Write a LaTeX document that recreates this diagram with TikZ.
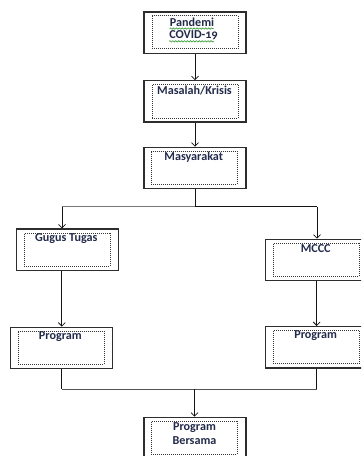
\documentclass[tikz,border=0pt]{standalone}
\usepackage{fontspec}
\setmainfont{Carlito}[Numbers=OldStyle]
\usetikzlibrary{arrows.meta,decorations.pathmorphing}
\definecolor{txt}{RGB}{34,42,74}
\definecolor{boxc}{RGB}{45,45,45}
\definecolor{linec}{RGB}{20,20,20}
\definecolor{greyline}{RGB}{120,120,120}
\definecolor{spell}{RGB}{60,160,60}
\begin{document}
\begin{tikzpicture}[x=0.75pt,y=-0.75pt,
  outerbox/.style={draw=boxc,line width=1pt,minimum width=76.5pt,minimum height=31pt,inner sep=0pt},
  innerbox/.style={draw=black!80,line width=0.5pt,dash pattern=on 0.75pt off 0.75pt,minimum width=64.5pt,minimum height=25pt,inner sep=0pt},
  label/.style={text=txt,font=\bfseries\fontsize{9.1}{10.5}\selectfont,inner sep=0pt},
  conn/.style={draw=linec,line width=0.6pt},
  arr/.style={conn,-{Straight Barb[length=2.6pt,width=5.2pt,line width=0.6pt]}},
  squiggle/.style={draw=spell,line width=0.5pt,decorate,decoration={snake,amplitude=0.5pt,segment length=2.2pt}}]
\useasboundingbox (0,0) rectangle (361,456);
\clip (0,0) rectangle (361,456);
% boxes
\node[outerbox] (b1) at (195,32.7) {};
\node[innerbox] (b1i) at (195,31.9) {};
\node[label] (t1a) at (192,22.5) {Pandemi};
\node[label] (t1b) at (193.5,35) {COVID-19};
\node[outerbox] (b2) at (195,101.5) {};
\node[innerbox] (b2i) at (195.3,101.2) {};
\node[label] (t2) at (194.5,90.7) {Masalah/Krisis};
\node[outerbox] (b3) at (195,168) {};
\node[innerbox] (b3i) at (194,167.5) {};
\node[label] (t3) at (193.7,157) {Masyarakat};
\node[outerbox] (gt) at (67.2,249.8) {};
\node[innerbox] (gti) at (67.2,249.5) {};
\node[label] (tgt) at (66.3,239) {Gugus Tugas};
\node[outerbox] (mc) at (316.7,260) {};
\node[innerbox] (mci) at (316.3,259.5) {};
\node[label] (tmc) at (315.7,248.3) {MCCC};
\node[outerbox] (pl) at (61.8,348) {};
\node[innerbox] (pli) at (61,347.5) {};
\node[label] (tpl) at (60.3,336.7) {Program};
\node[outerbox] (pr) at (316.7,347.3) {};
\node[innerbox] (pri) at (316.3,347) {};
\node[label] (tpr) at (315.7,336) {Program};
\node[outerbox] (pb) at (195,438) {};
\node[innerbox] (pbi) at (194.2,437.5) {};
\node[label] (tpb1) at (194.5,427.7) {Program};
\node[label] (tpb2) at (194.5,441) {Bersama};
% spell-check underlines
\draw[squiggle] (t1a.south west) ++(0,1.5) -- ++(44,0);
\draw[squiggle] (t1b.south west) ++(0,1.5) -- ++(45,0);
% junctions
\coordinate (jt) at (195,206.7);
\coordinate (jl) at (62,206.7);
\coordinate (jr) at (317,206.7);
\coordinate (jb) at (194.5,389.3);
% connectors
\draw[arr] (b1) -- (b2);
\draw[arr] (b2) -- (b3);
\draw[conn] (b3.south) -- (jt);
\draw[draw=greyline,line width=1.1pt] (jl) -- (jt);
\draw[conn] (jt) -- (jr);
\draw[arr] (jl) -- (jl |- gt.north);
\draw[arr] (jr) -- (jr |- mc.north);
\draw[arr] (gt.south -| pl.north) -- (pl.north);
\draw[arr] (mc.south) -- (pr.north);
\draw[conn] (pl.south) -- (pl.south |- jb);
\draw[conn] (pr.south) -- (pr.south |- jb);
\draw[draw=greyline!70!black,line width=1.1pt] (pl.south |- jb) -- (pr.south |- jb);
\draw[arr] (jb) -- (jb |- pb.north);
\end{tikzpicture}
\end{document}
